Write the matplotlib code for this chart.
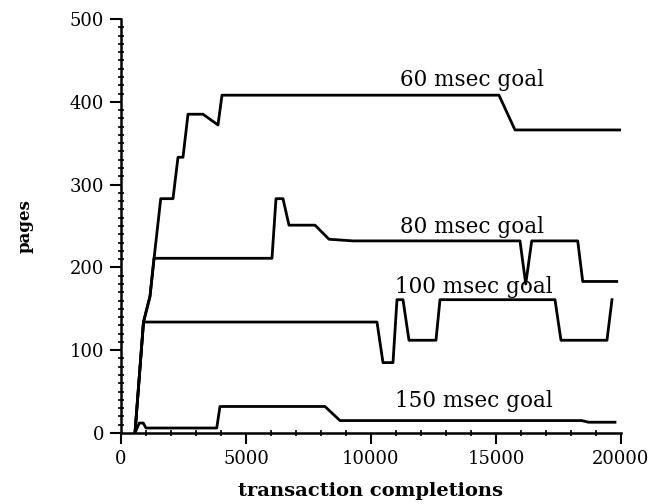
import matplotlib.pyplot as plt
from matplotlib.ticker import MultipleLocator

# goal curves: transaction completions vs pages
x60 = [560, 900, 1160, 1360, 1590, 2080, 2280, 2480, 2680, 3280, 3880, 4040, 15120, 15760, 20000]
y60 = [0, 134, 165, 221, 283, 283, 333, 333, 385, 385, 372, 408, 408, 366, 366]

x80 = [560, 900, 1160, 1320, 6040, 6200, 6480, 6720, 7760, 8320, 9280, 15960, 16190, 16430, 18270, 18470, 19830]
y80 = [0, 134, 165, 211, 211, 283, 283, 251, 251, 234, 232, 232, 180, 232, 232, 183, 183]

x100 = [560, 900, 10240, 10480, 10880, 11040, 11280, 11520, 12600, 12760, 17360, 17600, 19440, 19640]
y100 = [0, 134, 134, 85, 85, 161, 161, 112, 112, 161, 161, 112, 112, 161]

x150 = [560, 730, 890, 1000, 3830, 3960, 8160, 8760, 18430, 18700, 19760]
y150 = [0, 12, 12, 6, 6, 32, 32, 15, 15, 13, 13]

labels = ["60 msec goal", "80 msec goal", "100 msec goal", "150 msec goal"]
label_x = [11160, 11160, 10960, 10960]
label_y = [419, 241, 169, 31]

plt.rcParams['font.family'] = 'DejaVu Serif'

fig = plt.figure(figsize=(6.59, 5.04), dpi=100)
ax = fig.add_axes([0.1836, 0.1409, 0.9423 - 0.1836, 0.9623 - 0.1409])

for xs, ys in [(x60, y60), (x80, y80), (x100, y100), (x150, y150)]:
    ax.plot(xs, ys, color='black', lw=2)

for t, tx, ty in zip(labels, label_x, label_y):
    ax.text(tx, ty, t, fontsize=15.5, ha='left', va='baseline')

ax.set_xlim(0, 20000)
ax.set_ylim(0, 500)
ax.xaxis.set_major_locator(MultipleLocator(5000))
ax.xaxis.set_minor_locator(MultipleLocator(1000))
ax.yaxis.set_major_locator(MultipleLocator(100))
ax.yaxis.set_minor_locator(MultipleLocator(10))
ax.tick_params(which='major', direction='out', length=8, width=1.5, labelsize=13, pad=4)
ax.tick_params(which='minor', direction='inout', length=5, width=1.2)

for s in ['top', 'right']:
    ax.spines[s].set_visible(False)
for s in ['left', 'bottom']:
    ax.spines[s].set_linewidth(1.8)

ax.set_xlabel("transaction completions", fontsize=14, fontweight='bold', labelpad=10)
ax.set_ylabel("pages", fontsize=12, fontweight='bold', labelpad=26)

fig.savefig("out.png", dpi=100)
